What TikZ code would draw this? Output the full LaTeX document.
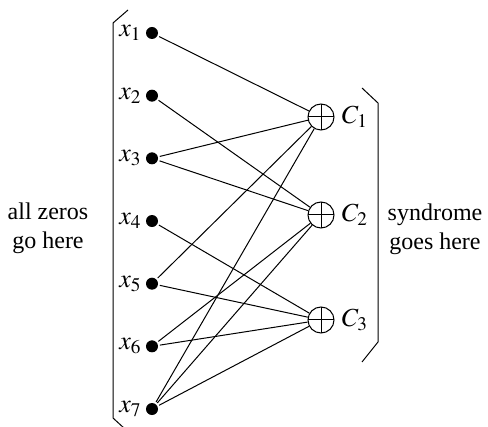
\documentclass[12pt,tikz,border=0pt]{standalone}
\usepackage{mathptmx}
\usepackage{fontspec}
\setmainfont{Liberation Serif}
\usetikzlibrary{positioning}
\tikzset{
  every picture/.style={line width=0.5pt, x=0.5pt, y=-0.5pt},
  bit/.style={circle, fill, inner sep=0pt, minimum size=6pt, outer sep=1pt},
  xorgate/.style={circle, draw, inner sep=0pt, minimum size=13pt,
    path picture={\draw (path picture bounding box.north) -- (path picture bounding box.south)
      (path picture bounding box.west) -- (path picture bounding box.east);}},
  tag/.style={inner sep=1pt, font=\fontsize{13}{15}\selectfont},
  note/.style={align=center},
}

\begin{document}
\begin{tikzpicture}
  \useasboundingbox (0,0) rectangle (488,427);
  % message bits on the left
  \foreach \i in {1,...,7} {
    \node[bit] (x\i) at (152,{33+62.67*(\i-1)}) {};
    \node[tag, left=0pt of x\i] {$x_{\i}$};
  }
  % parity checks
  \node[xorgate] (c1) at (321,117) {};
  \node[xorgate] (c2) at (321,215) {};
  \node[xorgate] (c3) at (321,320) {};
  \foreach \i in {1,2,3} \node[tag, right=2.5pt of c\i] {$C_{\i}$};
  \foreach \b/\c in {1/1, 2/2, 3/1, 3/2, 4/3, 5/1, 5/3, 6/2, 6/3, 7/1, 7/2, 7/3}
    \draw (x\b) -- (c\c);
  % brackets
  \draw (128,10) -- (113,23) -- (113,418) -- (125,429);
  \draw (362,88) -- (378,103) -- (378,342) -- (362,362);
  \node[note] (zeros) at (48,228) {all zeros\\go here};
  \node[note] (syndrome) at (435,229) {syndrome\\goes here};
\end{tikzpicture}
\end{document}
